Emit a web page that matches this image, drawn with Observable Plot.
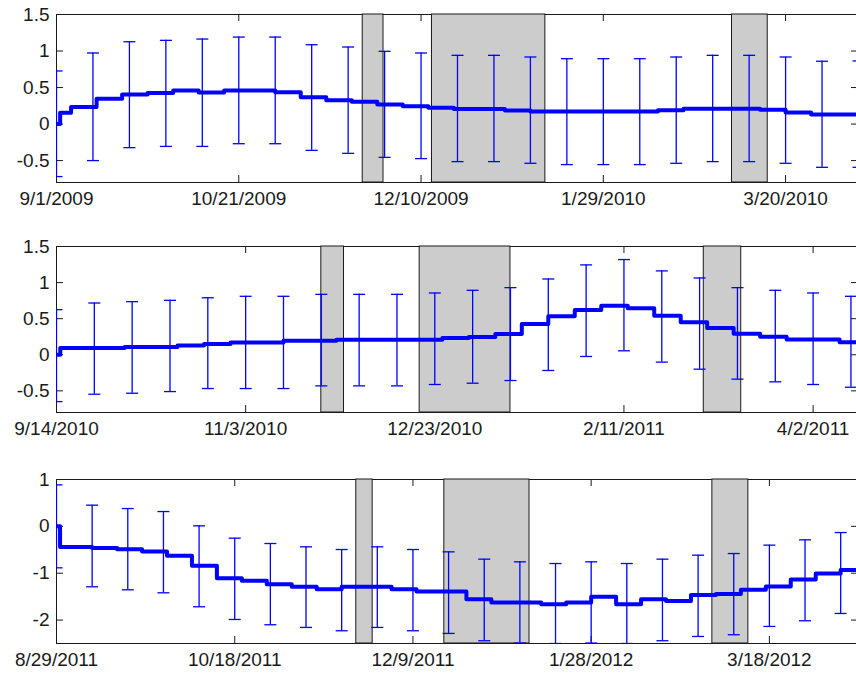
<!DOCTYPE html>
<html>
<head>
<meta charset="utf-8">
<script src="https://cdn.jsdelivr.net/npm/d3@7"></script>
<script src="https://cdn.jsdelivr.net/npm/@observablehq/plot@0.6"></script>
<style>
  html, body { margin: 0; padding: 0; background: #fff; overflow: hidden; }
  #chart svg { display: block; }
</style>
</head>
<body>
<div id="chart"></div>
<script>
// ---------- Season 2009/10 ----------
const s1TickIdx = [0, 50, 100, 150, 200];
const s1TickLabels = ["9/1/2009", "10/21/2009", "12/10/2009", "1/29/2010", "3/20/2010"];
const s1StepIdx = [0, 1, 4, 11, 18, 25, 32, 39, 46, 60, 67, 74, 81, 88, 95, 102, 109, 123, 130, 165, 172, 193, 200, 207, 220];
const s1StepVal = [0, 0.154, 0.232, 0.345, 0.404, 0.427, 0.458, 0.431, 0.458, 0.437, 0.368, 0.327, 0.304, 0.267, 0.245, 0.222, 0.205, 0.186, 0.172, 0.19, 0.209, 0.195, 0.158, 0.131, 0.131];
const s1BarIdx = [0, 10, 20, 30, 40, 50, 60, 70, 80, 90, 100, 110, 120, 130, 140, 150, 160, 170, 180, 190, 200, 210, 220];
const s1BarLow = [-0.719, -0.50, -0.323, -0.306, -0.306, -0.269, -0.269, -0.36, -0.401, -0.456, -0.473, -0.514, -0.514, -0.537, -0.555, -0.555, -0.555, -0.537, -0.514, -0.514, -0.537, -0.592, -0.592];
const s1BarHigh = [0.727, 0.973, 1.127, 1.146, 1.164, 1.191, 1.191, 1.086, 1.055, 0.996, 0.973, 0.941, 0.941, 0.918, 0.895, 0.895, 0.895, 0.918, 0.941, 0.941, 0.918, 0.86, 0.864];
const s1ShadeStart = [84, 103, 185.3];
const s1ShadeEnd = [89.7, 134.1, 195.1];

// ---------- Season 2010/11 ----------
const s2TickIdx = [0, 50, 100, 150, 200];
const s2TickLabels = ["9/14/2010", "11/3/2010", "12/23/2010", "2/11/2011", "4/2/2011"];
const s2StepIdx = [0, 1, 18, 32, 39, 46, 60, 74, 102, 109, 116, 123, 130, 137, 144, 151, 158, 165, 172, 179, 186, 193, 207, 212];
const s2StepVal = [0, 0.093, 0.106, 0.129, 0.148, 0.171, 0.194, 0.208, 0.231, 0.245, 0.287, 0.425, 0.532, 0.62, 0.68, 0.643, 0.541, 0.449, 0.37, 0.291, 0.25, 0.212, 0.175, 0.175];
const s2BarIdx = [0, 10, 20, 30, 40, 50, 60, 70, 80, 90, 100, 110, 120, 130, 140, 150, 160, 170, 180, 190, 200, 210];
const s2BarLow = [-0.649, -0.547, -0.533, -0.51, -0.468, -0.468, -0.468, -0.431, -0.431, -0.431, -0.412, -0.394, -0.357, -0.218, -0.024, 0.055, -0.102, -0.2, -0.338, -0.375, -0.412, -0.45];
const s2BarHigh = [0.625, 0.717, 0.736, 0.754, 0.79, 0.81, 0.81, 0.837, 0.837, 0.837, 0.856, 0.893, 0.93, 1.05, 1.245, 1.319, 1.162, 1.064, 0.93, 0.893, 0.856, 0.81];
const s2ShadeStart = [70, 96, 171.1];
const s2ShadeEnd = [76, 120, 181];

// ---------- Season 2011/12 ----------
const s3TickIdx = [0, 50, 100, 150, 200];
const s3TickLabels = ["8/29/2011", "10/18/2011", "12/9/2011", "1/28/2012", "3/18/2012"];
const s3StepIdx = [0, 1, 10, 17, 24, 31, 38, 45, 52, 59, 66, 73, 80, 94, 101, 115, 122, 136, 143, 150, 157, 164, 171, 178, 185, 192, 199, 206, 213, 220, 225];
const s3StepVal = [0, -0.44, -0.46, -0.487, -0.537, -0.629, -0.842, -1.105, -1.162, -1.233, -1.29, -1.34, -1.29, -1.34, -1.39, -1.553, -1.624, -1.66, -1.624, -1.503, -1.66, -1.553, -1.595, -1.467, -1.446, -1.354, -1.284, -1.134, -1.006, -0.934, -0.934];
const s3BarIdx = [0, 10, 20, 30, 40, 50, 60, 70, 80, 90, 100, 110, 120, 130, 140, 150, 160, 170, 180, 190, 200, 210, 220];
const s3BarLow = [-0.885, -1.29, -1.354, -1.418, -1.716, -1.987, -2.1, -2.157, -2.228, -2.157, -2.228, -2.285, -2.441, -2.49, -2.5, -2.49, -2.5, -2.441, -2.35, -2.313, -2.136, -2.015, -1.859];
const s3BarHigh = [0.885, 0.452, 0.38, 0.316, 0.011, -0.252, -0.366, -0.437, -0.494, -0.437, -0.494, -0.544, -0.70, -0.757, -0.793, -0.757, -0.793, -0.70, -0.615, -0.58, -0.401, -0.288, -0.132];
const s3ShadeStart = [84.1, 108.8, 184];
const s3ShadeEnd = [88.7, 132.7, 194.1];

// y ticks per panel
const yTicksA = [-0.5, 0, 0.5, 1, 1.5];
const yTicksB = [-2, -1, 0, 1];

const BLUE = "#0000ff";
const INK = "#1a1a1a";
const SHADE = "#cccccc";
const WIDTH = 856;
const MARGIN_LEFT = 56;
const MARGIN_RIGHT = -2; // right edge of the box sits just past the page
const TICK_LEN = 7;

// horizontal bar used for error-bar caps
const capSymbol = {
  draw(context, size) {
    const w = Math.sqrt(size / Math.PI);
    context.moveTo(-w, 0);
    context.lineTo(w, 0);
  }
};

const panels = [
  {tickIdx: s1TickIdx, tickLabels: s1TickLabels, stepIdx: s1StepIdx, stepVal: s1StepVal,
   barIdx: s1BarIdx, barLow: s1BarLow, barHigh: s1BarHigh, shadeStart: s1ShadeStart, shadeEnd: s1ShadeEnd,
   xMax: 220, yDomain: [-0.8, 1.5], yTicks: yTicksA, height: 225, marginTop: 14, marginBottom: 43},
  {tickIdx: s2TickIdx, tickLabels: s2TickLabels, stepIdx: s2StepIdx, stepVal: s2StepVal,
   barIdx: s2BarIdx, barLow: s2BarLow, barHigh: s2BarHigh, shadeStart: s2ShadeStart, shadeEnd: s2ShadeEnd,
   xMax: 212, yDomain: [-0.8, 1.5], yTicks: yTicksA, height: 225, marginTop: 21, marginBottom: 38},
  {tickIdx: s3TickIdx, tickLabels: s3TickLabels, stepIdx: s3StepIdx, stepVal: s3StepVal,
   barIdx: s3BarIdx, barLow: s3BarLow, barHigh: s3BarHigh, shadeStart: s3ShadeStart, shadeEnd: s3ShadeEnd,
   xMax: 225, yDomain: [-2.5, 1], yTicks: yTicksB, height: 225, marginTop: 29, marginBottom: 32}
];

function drawPanel(p) {
  const innerW = WIDTH - MARGIN_LEFT - MARGIN_RIGHT;
  const innerH = p.height - p.marginTop - p.marginBottom;
  const steps = p.stepIdx.map((x, i) => ({x, y: p.stepVal[i]}));
  const bars = p.barIdx.map((x, i) => ({x, lo: p.barLow[i], hi: p.barHigh[i]}));
  const shades = p.shadeStart.map((s, i) => ({s, e: p.shadeEnd[i]}));
  const labelOf = new Map(p.tickIdx.map((t, i) => [t, p.tickLabels[i]]));

  return Plot.plot({
    width: WIDTH,
    height: p.height,
    marginLeft: MARGIN_LEFT,
    marginRight: MARGIN_RIGHT,
    marginTop: p.marginTop,
    marginBottom: p.marginBottom,
    style: {fontFamily: "'Liberation Sans', Arial, sans-serif", fontSize: "19px", color: INK, background: "#fff"},
    x: {domain: [0, p.xMax]},
    y: {domain: p.yDomain},
    marks: [
      Plot.frame({stroke: INK}),
      // inward tick marks on all four sides
      Plot.tickX(p.tickIdx, {x: d => d, insetTop: innerH - TICK_LEN, stroke: INK}),
      Plot.tickX(p.tickIdx, {x: d => d, insetBottom: innerH - TICK_LEN, stroke: INK}),
      Plot.tickY(p.yTicks, {y: d => d, insetRight: innerW - TICK_LEN, stroke: INK}),
      Plot.tickY(p.yTicks, {y: d => d, insetLeft: innerW - TICK_LEN, stroke: INK}),
      Plot.axisX(p.tickIdx, {tickSize: 0, tickPadding: 9, tickFormat: d => labelOf.get(d), label: null}),
      Plot.axisY(p.yTicks, {tickSize: 0, tickPadding: 7, tickFormat: d => String(d), label: null}),
      // shaded periods
      Plot.rect(shades, {x1: "s", x2: "e", fill: SHADE, stroke: INK, strokeWidth: 1}),
      // cumulative estimate
      Plot.line(steps, {x: "x", y: "y", curve: "step-after", stroke: BLUE, strokeWidth: 4, clip: true}),
      // error bars
      Plot.ruleX(bars, {x: "x", y1: "lo", y2: "hi", stroke: BLUE, strokeWidth: 1.3, clip: true}),
      Plot.dot(bars, {x: "x", y: "lo", r: 6, symbol: capSymbol, fill: "none", stroke: BLUE, strokeWidth: 1.3, clip: true}),
      Plot.dot(bars, {x: "x", y: "hi", r: 6, symbol: capSymbol, fill: "none", stroke: BLUE, strokeWidth: 1.3, clip: true})
    ]
  });
}

const root = document.getElementById("chart");
for (const p of panels) root.appendChild(drawPanel(p));
</script>
</body>
</html>
